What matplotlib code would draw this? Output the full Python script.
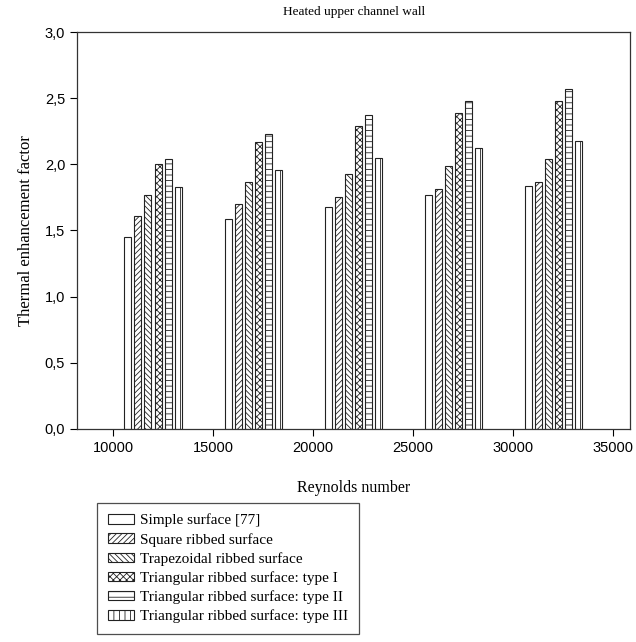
import matplotlib
matplotlib.use("Agg")
import matplotlib.pyplot as plt
from matplotlib.ticker import FuncFormatter
import numpy as np

reynolds = [12000, 17000, 22000, 27000, 32000]
series_labels = [
    "Simple surface [77]",
    "Square ribbed surface",
    "Trapezoidal ribbed surface",
    "Triangular ribbed surface: type I",
    "Triangular ribbed surface: type II",
    "Triangular ribbed surface: type III",
]
simple = [1.45, 1.59, 1.68, 1.77, 1.84]
square = [1.61, 1.70, 1.75, 1.81, 1.87]
trapezoidal = [1.77, 1.87, 1.93, 1.99, 2.04]
tri_I = [2.00, 2.17, 2.29, 2.39, 2.48]
tri_II = [2.04, 2.23, 2.37, 2.48, 2.57]
tri_III = [1.83, 1.96, 2.05, 2.12, 2.18]
series = [simple, square, trapezoidal, tri_I, tri_II, tri_III]
hatches = ["", "//////", "\\\\\\\\\\\\", "xxxxx", "---", "|||"]

plt.rcParams["hatch.linewidth"] = 0.6
serif = ["Liberation Serif", "DejaVu Serif"]
sans = ["Liberation Sans", "DejaVu Sans"]

fig = plt.figure(figsize=(6.36, 6.42), dpi=100)
ax = fig.add_axes([0.121, 0.332, 0.870, 0.618])

offsets = np.array([-1250, -750, -250, 250, 750, 1250])
width = 350
x = np.array(reynolds)
for i, (vals, lab, h) in enumerate(zip(series, series_labels, hatches)):
    ax.bar(x + offsets[i], vals, width=width, facecolor="white",
           edgecolor="#222222", linewidth=0.8, hatch=h, label=lab)

ax.set_xlim(8200, 35850)
ax.set_ylim(0, 3.0)
ax.set_xticks([10000, 15000, 20000, 25000, 30000, 35000])
ax.set_yticks(np.arange(0, 3.01, 0.5))
ax.yaxis.set_major_formatter(FuncFormatter(lambda v, p: f"{v:.1f}".replace(".", ",")))
ax.tick_params(direction="out", length=5, width=0.8, top=False, right=False,
               labelsize=10.5)
for lbl in ax.get_xticklabels() + ax.get_yticklabels():
    lbl.set_fontfamily(sans)
for sp in ax.spines.values():
    sp.set_linewidth(0.9)
    sp.set_color("#333333")

ax.set_title("Heated upper channel wall", fontsize=9.5, family=serif, pad=12)
ax.set_xlabel("Reynolds number", fontsize=11.5, family=serif, labelpad=18)
ax.set_ylabel("Thermal enhancement factor", fontsize=12, family=serif, labelpad=8)

handles, labels = ax.get_legend_handles_labels()
leg = fig.legend(handles, labels, loc="upper left", bbox_to_anchor=(0.153, 0.2165),
                 prop={"family": serif, "size": 11}, frameon=True, fancybox=False,
                 edgecolor="#222222", handlelength=1.7, handleheight=0.6,
                 labelspacing=0.35, borderpad=0.7, handletextpad=0.4,
                 borderaxespad=0)
leg.get_frame().set_linewidth(0.9)

fig.savefig("out.png", dpi=100)
